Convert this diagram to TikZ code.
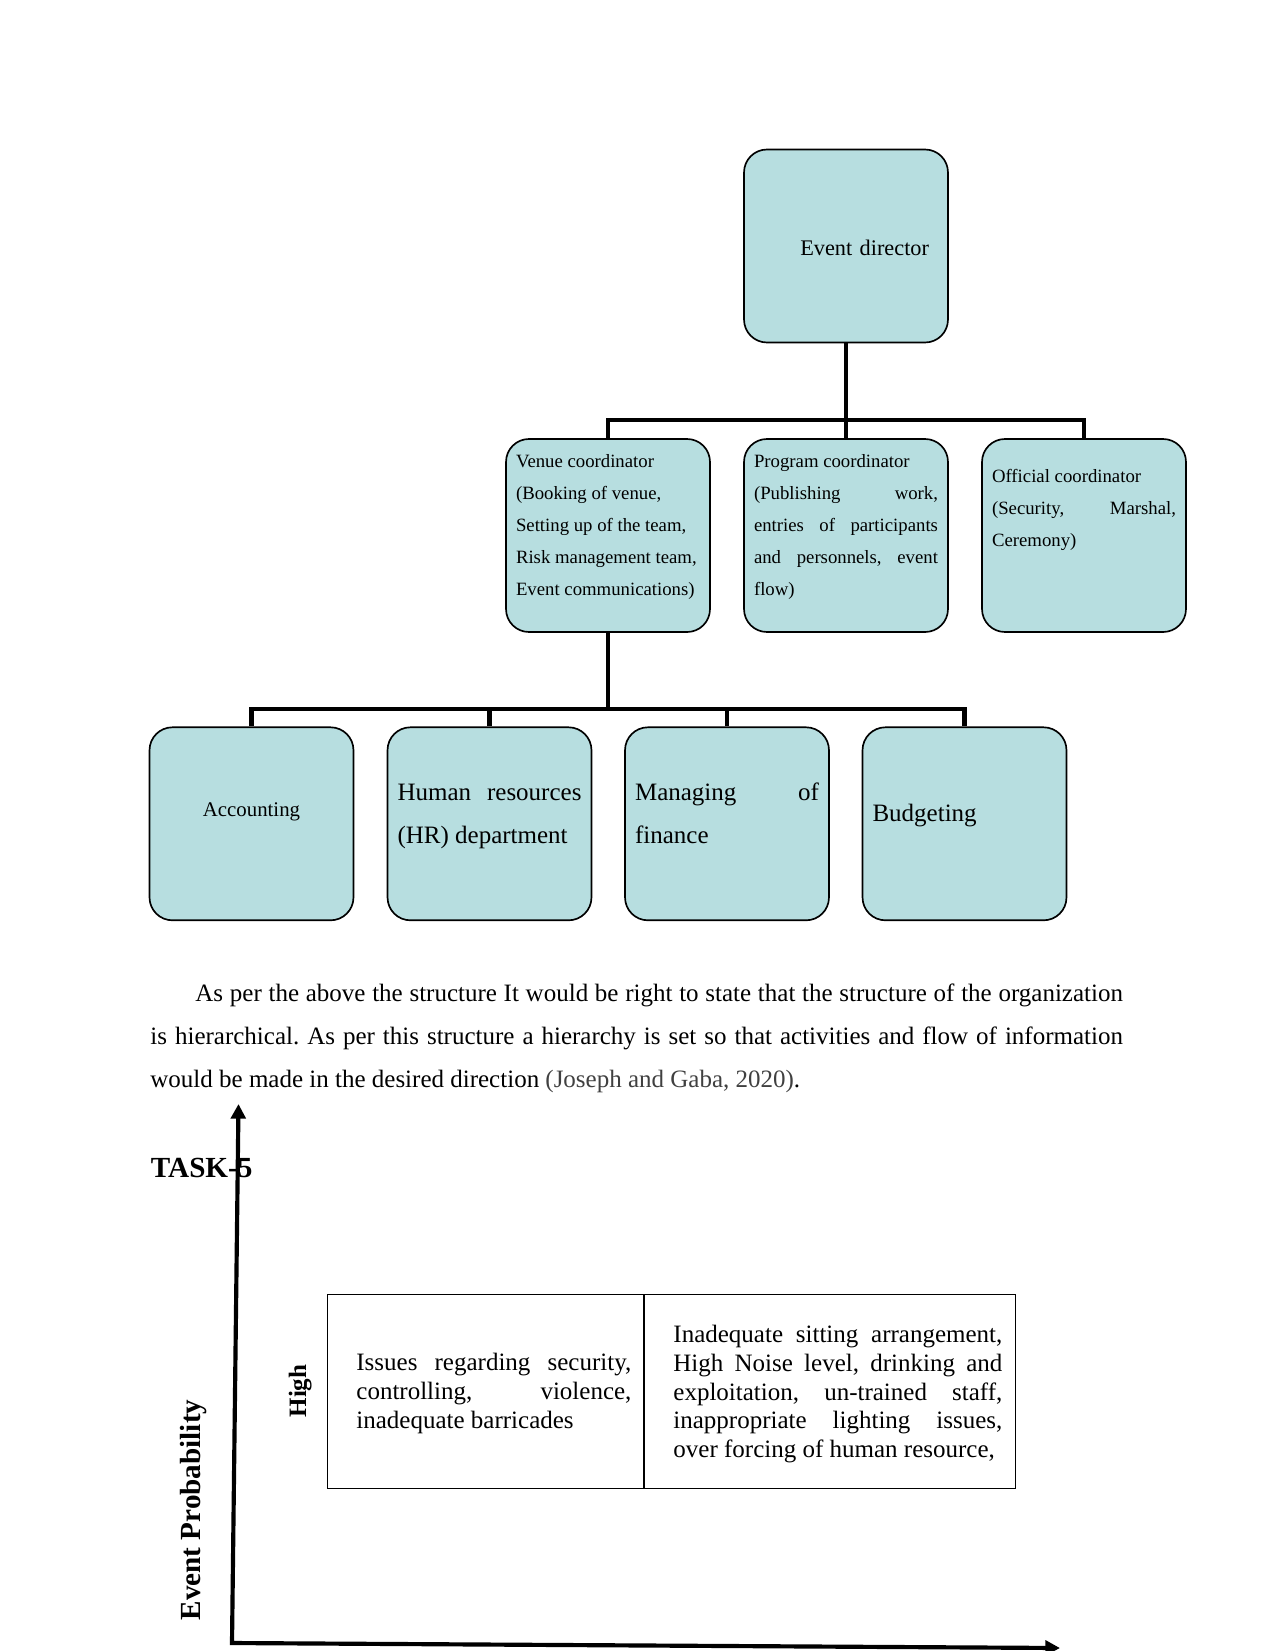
\documentclass[tikz,border=0pt]{standalone}
\usepackage{fontspec}
\setmainfont{Liberation Serif}
\usepackage{xcolor}
\usetikzlibrary{arrows.meta}

\definecolor{boxblue}{RGB}{183,222,224}
\definecolor{citegray}{RGB}{64,64,64}

\tolerance=10000
\hyphenpenalty=10000
\exhyphenpenalty=10000
\frenchspacing

\tikzset{
  orgbox/.style={draw=black, line width=0.8pt, fill=boxblue, rounded corners=11pt,
    inner xsep=4.8pt, inner ysep=0pt, text width=88.3pt, align=justify},
  tiertwo/.style={orgbox, font=\fontsize{9}{15.4}\selectfont},
  tierthree/.style={orgbox, font=\fontsize{12}{20.7}\selectfont},
  orgline/.style={line width=2pt},
  cellbox/.style={draw=black, line width=0.5pt, minimum height=93.1pt, inner sep=0pt, anchor=north west},
  celltext/.style={inner sep=0pt, anchor=base west, align=justify, font=\fontsize{12}{13.8}\selectfont},
  axisline/.style={line width=2pt, line join=miter,
    {Triangle[width=7pt,length=7pt]}-{Triangle[width=7pt,length=7pt]}},
  sidelabel/.style={rotate=90, anchor=base, inner sep=0pt}
}

\begin{document}
\begin{tikzpicture}[x=0.48pt,y=0.48pt,yscale=-1,xscale=1]
\path[use as bounding box] (0,0) rectangle (1275,1651);

%Rounded Rect: top
\node[orgbox, text width=79.7pt, inner xsep=9.1pt, align=right, font=\fontsize{10.7}{12}\selectfont,
  text height=50.7pt, text depth=41.94pt] (director) at (846,246) {Event director};

%Rounded Rect: second row
\node[tiertwo, text height=13.6pt, text depth=79.04pt] (venue) at (608,535.5)
  {Venue coordinator\\ (Booking of venue,\\ Setting up of the team,\\ Risk management team,\\ Event communications)};
\node[tiertwo, text height=13.6pt, text depth=79.04pt] (program) at (846,535.5)
  {Program coordinator\\ (Publishing work, \linebreak entries of participants \linebreak and personnels, event \linebreak flow)};
\node[tiertwo, text height=20.8pt, text depth=71.84pt] (official) at (1084,535.5)
  {Official coordinator\\ (Security, Marshal, \linebreak Ceremony)};

%Rounded Rect: third row
\node[orgbox, align=center, font=\fontsize{10}{12}\selectfont,
  text height=42.6pt, text depth=50.04pt] (accounting) at (251.5,823.8) {Accounting};
\node[tierthree, text height=34.9pt, text depth=57.74pt] (hr) at (489.5,823.8)
  {Human resources \linebreak (HR) department};
\node[tierthree, text height=34.9pt, text depth=57.74pt] (managing) at (727,823.8)
  {Managing of \linebreak finance};
\node[tierthree, align=left, text height=45.3pt, text depth=47.34pt] (budgeting) at (964.5,823.8)
  {Budgeting};

%Straight Lines
\coordinate (topbus) at (846,420);
\coordinate (lowbus) at (608,709);
\draw[orgline] (director.south) -- (program.north);
\draw[orgline] (venue.north) -- (venue.north |- topbus) -- (official.north |- topbus) -- (official.north);
\draw[orgline] (venue.south) -- (lowbus);
\draw[orgline] (accounting.north) -- (accounting.north |- lowbus) -- (budgeting.north |- lowbus) -- (budgeting.north);
\foreach \n in {hr,managing}
  \draw[orgline] (\n.north) -- (\n.north |- lowbus);

% Text Node
\node[anchor=base west, text width=466.8pt, inner sep=0pt, align=justify,
  font=\fontsize{12}{20.7}\selectfont] (para) at (150,1001)
  {\hspace*{21.6pt}As per the above the structure It would be right to state that the structure of the organization \linebreak is hierarchical. As per this structure a hierarchy is set so that activities and flow of information \linebreak would be made in the desired direction \textcolor{citegray}{(Joseph and Gaba, 2020)}.};

% Text Node
\node[anchor=base west, inner sep=0pt, font=\fontsize{14}{16}\selectfont\bfseries] (task) at (150.5,1177) {TASK-5};

%Table
\node[cellbox, minimum width=151.9pt] (lowcell) at (326.5,1294.3) {};
\node[cellbox, minimum width=178.1pt] (highcell) at (lowcell.north east) {};
\node[celltext, text width=132pt] (lowtext) at (356,1370.7)
  {Issues regarding security, \linebreak controlling, violence, \linebreak inadequate barricades};
\node[celltext, text width=157.9pt] (hightext) at (673,1342.7)
  {Inadequate sitting arrangement, \linebreak High Noise level, drinking and \linebreak exploitation, un-trained staff, \linebreak inappropriate lighting issues, \linebreak over forcing of human resource,};

% Text Node
\node[sidelabel, font=\fontsize{12}{14}\selectfont\bfseries] (high) at (306,1391) {High};
\node[sidelabel, font=\fontsize{14}{16}\selectfont\bfseries] (probability) at (200,1510) {Event Probability};

%Axes
\coordinate (origin) at (232,1643);
\coordinate (ytip) at (238.5,1104);
\coordinate (xtip) at (1060,1648);
\draw[axisline] (ytip) -- (origin) -- (xtip);

\end{tikzpicture}
\end{document}
